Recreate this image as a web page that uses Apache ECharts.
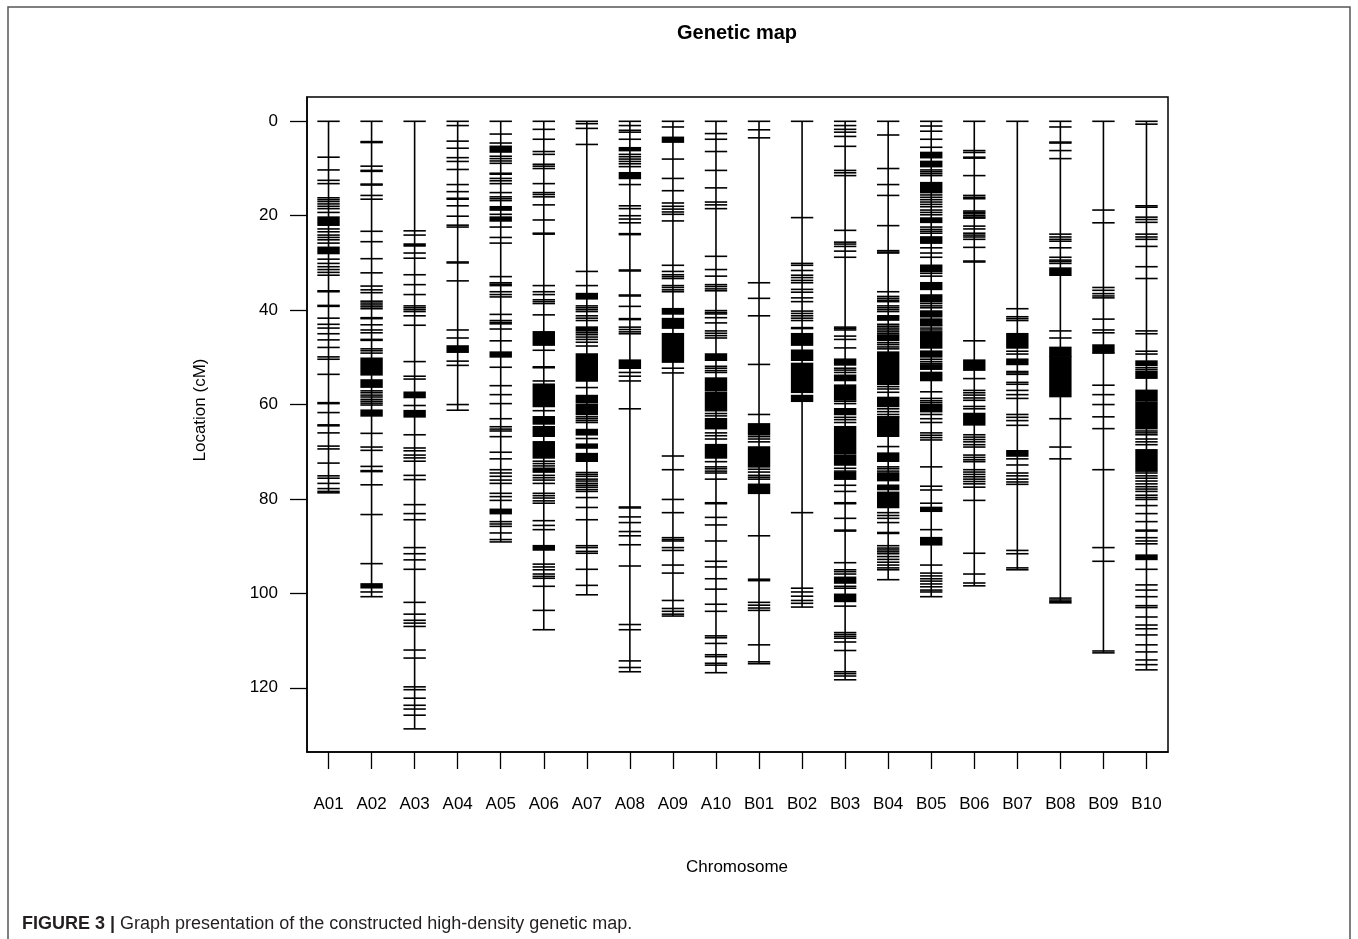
<!DOCTYPE html>
<html><head><meta charset="utf-8">
<script src="https://cdn.jsdelivr.net/npm/echarts@6/dist/echarts.min.js"></script>
<style>html,body{margin:0;padding:0;background:#fff}#c{width:1358px;height:939px}</style>
</head><body><div id="c"></div>
<script>
const chromosomes = ['A01','A02','A03','A04','A05','A06','A07','A08','A09','A10','B01','B02','B03','B04','B05','B06','B07','B08','B09','B10'];
const lengths = [78.7,100.7,128.7,61.2,89.1,107.7,100.3,116.6,104.8,116.8,114.9,102.9,118.3,97.1,100.7,98.4,95.0,102.0,112.6,116.2];
const yTicks = [0,20,40,60,80,100,120];

// single marker positions (cM)
const markersA01 = [0,7.6,10.3,12.5,13.2,16.2,16.6,17.0,17.5,18.0,18.5,19.3,22.8,23.4,24.1,24.6,25.1,25.8,29.2,30.1,30.8,31.4,32.0,32.6,35.9,36.1,39.0,39.2,41.7,43.0,43.8,45.0,46.3,47.9,49.9,50.4,53.6,59.6,59.8,61.7,64.3,64.5,66.0,68.8,69.4,72.4,75.1,75.6,76.7,77.8,78.4,78.7];
const markersA02 = [0,4.3,4.5,9.5,10.4,10.6,13.3,13.5,15.7,16.5,23.3,25.5,29.1,32.1,34.9,35.7,36.3,38.1,38.5,38.9,39.3,39.7,41.6,41.8,43.1,44.2,44.8,46.2,46.4,48.2,48.6,49.1,57.1,57.5,58.0,58.4,58.9,59.3,59.7,60.1,66.1,69.0,69.7,73.1,74.0,74.2,77.0,83.3,93.7,99.7,100.7];
const markersA03 = [0,23.2,24.1,27.9,29.0,32.5,34.6,36.7,39.1,39.5,39.9,40.3,41.2,43.2,50.9,54.0,54.6,60.2,66.4,69.2,69.8,70.7,71.3,72.0,75.0,75.9,81.2,83.1,84.4,90.3,91.6,92.9,94.9,101.9,104.4,105.7,106.3,107.0,112.0,113.7,119.8,120.4,122.2,123.7,124.5,125.8,128.7];
const markersA04 = [0,0.9,4.2,5.7,7.7,8.5,10.2,13.4,14.9,16.3,16.5,17.9,20.1,22.0,22.4,29.8,30.0,33.8,44.2,45.9,50.8,51.7,60.0,61.2];
const markersA05 = [0,2.7,4.6,7.4,7.9,8.4,8.9,11.0,11.2,12.1,12.6,13.2,15.1,16.0,16.4,16.8,19.7,22.4,24.6,25.8,32.9,34.2,34.5,34.8,36.1,36.7,37.2,40.9,42.2,42.6,42.9,44.0,46.5,52.1,56.0,57.9,59.8,63.0,64.7,65.2,65.6,66.8,70.1,71.5,73.8,74.5,75.2,76.0,76.7,78.8,79.5,80.3,84.8,85.3,85.8,87.2,88.6,89.1];
const markersA06 = [0,1.7,3.8,6.4,7.0,9.1,9.5,10.0,13.2,15.1,15.5,16.0,17.7,20.9,23.7,23.9,34.8,36.1,36.7,37.8,38.2,38.6,41.0,48.5,52.0,52.2,55.0,61.3,72.0,72.5,73.0,75.0,75.5,76.0,76.7,78.8,79.3,79.8,80.4,80.9,84.6,85.6,86.5,93.8,94.4,95.0,95.9,96.4,96.8,98.5,103.6,107.7];
const markersA07 = [0,0.5,1.5,4.9,31.8,34.8,39.1,39.5,39.9,40.3,41.2,41.7,42.2,44.8,45.2,45.7,46.2,46.8,47.6,56.4,62.6,63.0,63.4,63.8,67.2,74.4,74.8,75.2,75.8,76.2,76.7,77.1,77.5,78.0,78.4,79.7,81.8,84.4,89.9,90.3,91.1,91.5,94.9,98.3,100.3];
const markersA08 = [0,0.9,1.9,2.3,3.8,7.0,7.5,8.0,8.5,9.0,9.6,13.4,17.9,18.5,20.0,20.7,21.5,23.8,24.0,31.5,31.7,36.8,37.0,39.2,41.8,42.0,43.6,44.1,44.6,45.0,53.2,54.0,55.0,60.9,81.7,81.9,83.8,85.0,86.9,87.8,89.7,94.2,106.6,107.7,114.3,115.7,116.6];
const markersA09 = [0,1.2,8.0,12.1,14.7,17.3,18.0,18.6,19.2,19.7,21.1,30.5,31.8,32.5,32.9,33.3,34.8,35.2,35.7,36.1,52.3,53.3,70.9,73.8,80.1,82.9,88.2,88.6,88.9,90.3,90.9,94.0,95.7,101.5,103.2,103.8,104.4,104.8];
const markersA10 = [0,2.6,3.8,6.4,10.4,14.1,17.1,17.7,18.5,28.6,31.4,32.8,34.6,35.0,35.5,35.9,40.1,40.5,40.8,41.6,42.7,44.4,44.9,45.4,45.9,51.9,52.3,52.8,53.2,61.9,62.4,66.0,66.6,67.3,72.1,73.2,73.6,74.1,74.5,75.8,80.8,81.0,83.9,85.5,88.9,93.2,94.4,96.9,99.1,102.3,103.8,109.0,109.4,110.6,113.0,113.4,114.8,115.2,116.8];
const markersB01 = [0,1.8,3.5,34.2,37.5,41.2,51.5,62.1,66.8,67.3,67.9,73.7,74.3,75.0,75.4,75.8,87.8,97.0,97.3,101.9,102.5,103.1,103.6,110.9,114.5,114.9];
const markersB02 = [0,20.4,30.1,30.5,31.6,32.6,33.1,33.7,34.2,35.6,36.2,37.4,38.2,40.2,40.7,41.2,41.7,42.2,43.7,43.9,82.9,98.9,99.7,100.6,101.5,102.1,102.9];
const markersB03 = [0,0.9,1.7,2.3,3.2,5.3,10.4,10.9,11.5,23.1,25.6,26.0,26.5,27.5,28.8,43.6,43.9,44.2,45.5,46.2,48.0,52.3,52.7,53.2,59.3,59.8,62.7,63.2,63.8,73.5,74.1,77.1,78.4,80.8,81.0,84.1,86.6,86.8,93.5,95.0,95.4,95.9,98.5,98.9,102.7,108.3,108.7,109.1,109.5,110.3,112.1,116.6,117.0,117.5,118.3];
const markersB04 = [0,2.9,10.0,13.4,15.7,22.1,27.4,27.7,27.9,36.1,37.1,37.5,37.9,38.2,39.1,39.5,39.9,40.3,43.0,43.4,43.8,44.2,44.6,45.0,46.9,47.3,47.8,48.2,56.2,56.7,57.4,60.9,61.5,62.1,62.6,68.9,73.2,73.6,74.1,82.9,83.5,84.1,85.0,87.1,87.3,89.9,90.4,90.8,91.2,91.6,92.2,92.8,93.4,94.0,94.6,95.0,97.1];
const markersB05 = [0,1.0,2.1,3.8,5.5,10.3,10.7,11.1,11.5,15.6,16.1,16.6,17.1,17.6,18.1,18.8,19.3,19.8,22.4,22.9,23.3,23.7,26.8,27.9,28.8,32.2,32.8,38.6,39.1,39.5,43.3,43.8,44.2,50.4,50.9,51.3,57.3,58.7,59.2,59.6,62.1,63.0,63.8,66.0,66.5,67.0,67.5,73.2,77.3,78.1,80.9,86.5,94.0,95.7,96.3,96.9,97.4,98.0,98.6,99.3,99.7,100.7];
const markersB06 = [0,6.2,6.6,7.6,7.8,11.5,15.7,16.1,16.4,19.0,19.3,19.6,20.0,20.3,20.5,22.2,22.8,23.7,24.1,24.5,25.0,26.7,29.6,29.8,46.5,54.5,57.0,57.5,58.0,58.6,59.1,60.4,60.9,66.4,66.9,67.4,67.9,68.5,69.0,70.7,71.2,71.7,72.1,73.8,74.3,74.8,75.3,75.8,76.3,76.8,77.5,80.3,91.5,95.9,97.8,98.4];
const markersB07 = [0,39.7,41.4,41.8,42.2,48.7,49.3,53.0,53.3,53.6,55.3,55.7,57.0,57.9,58.7,62.1,62.7,63.4,64.4,71.5,72.8,74.5,75.1,75.8,76.4,76.9,90.9,91.6,94.6,95.0];
const markersB08 = [0,1.2,4.4,4.6,6.2,7.9,23.9,24.5,25.0,25.4,26.8,28.8,29.4,29.7,30.1,44.4,45.9,63.0,69.0,71.5,101.0,101.4,101.7,102.0];
const markersB09 = [0,18.8,21.5,35.2,35.8,36.5,37.0,37.4,41.9,44.2,44.8,49.1,55.9,57.9,60.0,62.6,65.1,73.8,90.3,93.2,112.2,112.6];
const markersB10 = [0,0.6,17.9,18.2,20.3,20.8,21.4,23.9,24.5,25.0,26.5,30.8,33.3,44.4,45.0,48.7,49.3,52.2,52.6,65.6,66.0,66.4,67.3,67.9,68.5,74.5,75.1,75.6,76.2,76.8,77.4,77.9,78.4,79.2,79.7,80.1,81.4,83.1,84.8,86.6,86.8,88.2,88.9,89.5,94.9,98.2,99.3,100.7,102.6,103.0,105.0,106.7,107.5,108.8,110.9,112.4,114.1,115.1,116.2];

// stretches where markers merge into solid black [start, end] (cM)
const blocksA01 = [[20.3,22.0],[26.7,28.0]];
const blocksA02 = [[50.2,53.7],[54.8,56.3],[61.2,62.4],[98.0,98.8]];
const blocksA03 = [[26.0,26.4],[57.4,58.5],[61.3,62.6]];
const blocksA04 = [[47.6,48.9]];
const blocksA05 = [[5.3,6.5],[18.1,18.8],[20.3,21.1],[48.9,49.9],[82.2,83.1]];
const blocksA06 = [[44.6,47.4],[55.7,60.4],[62.6,64.1],[64.7,66.7],[67.9,71.3],[73.5,74.3],[89.9,90.8]];
const blocksA07 = [[36.5,37.6],[43.6,44.4],[49.3,55.0],[58.1,59.6],[60.0,62.1],[65.3,66.4],[68.4,69.2],[70.4,72.0]];
const blocksA08 = [[5.6,6.2],[10.9,12.1],[50.6,52.3]];
const blocksA09 = [[3.4,4.4],[39.7,40.8],[41.8,43.8],[45.0,51.0]];
const blocksA10 = [[49.3,50.6],[54.4,57.0],[57.4,61.3],[63.0,65.1],[68.5,71.3]];
const blocksB01 = [[64.1,66.4],[69.0,73.2],[76.9,78.8]];
const blocksB02 = [[45.0,47.4],[48.5,50.6],[51.3,57.4],[58.1,59.3]];
const blocksB03 = [[50.4,51.6],[53.8,54.9],[55.9,59.0],[60.9,62.1],[64.7,70.3],[70.7,72.8],[74.4,75.8],[96.6,97.8],[100.2,101.7]];
const blocksB04 = [[41.2,42.1],[45.3,46.4],[48.9,55.7],[58.5,60.4],[62.7,66.7],[70.3,72.0],[74.5,76.1],[77.1,78.0],[78.6,81.8]];
const blocksB05 = [[6.6,7.7],[8.5,9.6],[13.0,15.1],[20.5,21.4],[24.5,25.8],[30.5,31.8],[34.2,35.6],[36.8,38.2],[40.2,41.4],[41.9,43.1],[44.6,48.0],[48.7,49.9],[51.6,52.5],[53.2,54.9],[60.0,61.5],[81.8,82.6],[88.2,89.7]];
const blocksB06 = [[50.6,52.7],[61.9,64.3]];
const blocksB07 = [[45.0,48.0],[50.4,51.5],[69.8,70.9]];
const blocksB08 = [[31.1,32.6],[47.9,49.7],[49.9,58.3]];
const blocksB09 = [[47.4,48.9]];
const blocksB10 = [[50.8,51.7],[53.0,54.4],[57.0,59.2],[59.5,65.1],[69.6,74.1],[91.9,92.8]];

const markerLists = [markersA01,markersA02,markersA03,markersA04,markersA05,markersA06,markersA07,markersA08,markersA09,markersA10,markersB01,markersB02,markersB03,markersB04,markersB05,markersB06,markersB07,markersB08,markersB09,markersB10];
const blockLists = [blocksA01,blocksA02,blocksA03,blocksA04,blocksA05,blocksA06,blocksA07,blocksA08,blocksA09,blocksA10,blocksB01,blocksB02,blocksB03,blocksB04,blocksB05,blocksB06,blocksB07,blocksB08,blocksB09,blocksB10];

const lineData = lengths.map((L,i)=>[i,L]);
const markerData = [];
markerLists.forEach((arr,i)=>arr.forEach(v=>markerData.push([i,v])));
const blockData = [];
blockLists.forEach((arr,i)=>arr.forEach(b=>blockData.push([i,b[0],b[1]])));

const HALF = 11.2;
const FONT = "'Liberation Sans', Arial, Helvetica, sans-serif";
const chart = echarts.init(document.getElementById('c'), null, {renderer:'canvas'});
chart.setOption({
  animation:false,
  backgroundColor:'#fff',
  grid:{left:307,right:190,top:97,bottom:187,show:true,borderColor:'#000',borderWidth:1.5,backgroundColor:'transparent'},
  xAxis:{type:'category',data:chromosomes,boundaryGap:true,position:'bottom',
    axisLine:{show:true,onZero:false,lineStyle:{color:'#000',width:1.5}},
    axisTick:{show:true,alignWithLabel:true,interval:0,length:17,lineStyle:{color:'#000',width:1.3}},
    axisLabel:{interval:0,margin:44,color:'#000',fontSize:17,fontFamily:FONT},
    splitLine:{show:false}},
  yAxis:{type:'value',inverse:true,min:-5.15,max:133.6,
    axisLine:{show:true,onZero:false,lineStyle:{color:'#000',width:1.5}},
    axisTick:{show:true,customValues:yTicks,length:17,lineStyle:{color:'#000',width:1.3}},
    axisLabel:{customValues:yTicks,margin:29,color:'#000',fontSize:17,fontFamily:FONT},
    splitLine:{show:false}},
  graphic:[
    {type:'rect',shape:{x:8,y:7,width:1342,height:945},style:{fill:'none',stroke:'#555',lineWidth:1.5},silent:true},
    {type:'text',x:737,y:33,style:{text:'Genetic map',fontSize:20,fontWeight:'bold',fontFamily:FONT,fill:'#000',textAlign:'center',textVerticalAlign:'middle'}},
    {type:'text',x:737,y:867,style:{text:'Chromosome',fontSize:17,fontFamily:FONT,fill:'#000',textAlign:'center',textVerticalAlign:'middle'}},
    {type:'text',x:200,y:410,rotation:Math.PI/2,style:{text:'Location (cM)',fontSize:17,fontFamily:FONT,fill:'#000',textAlign:'center',textVerticalAlign:'middle'}},
    {type:'text',x:22,y:924,style:{text:'{b|FIGURE 3 |} Graph presentation of the constructed high-density genetic map.',
      fontSize:18,fontFamily:"'Liberation Sans Narrow', 'Liberation Sans', sans-serif",fill:'#231f20',textVerticalAlign:'middle',
      rich:{b:{fontWeight:'bold',fontSize:18,fontFamily:"'Liberation Sans Narrow', 'Liberation Sans', sans-serif",fill:'#231f20'}}}}
  ],
  series:[
    {type:'custom',name:'chromosome',data:lineData,encode:{x:0,y:1},clip:false,
      renderItem:function(params,api){
        const i=api.value(0);
        const a=api.coord([i,0]), b=api.coord([i,api.value(1)]);
        return {type:'line',shape:{x1:a[0],y1:a[1],x2:b[0],y2:b[1]},style:{stroke:'#000',lineWidth:1.6}};
      }},
    {type:'custom',name:'blocks',data:blockData,encode:{x:0,y:[1,2]},
      renderItem:function(params,api){
        const i=api.value(0);
        const a=api.coord([i,api.value(1)]), b=api.coord([i,api.value(2)]);
        return {type:'rect',shape:{x:a[0]-HALF,y:a[1]-0.8,width:2*HALF,height:b[1]-a[1]+1.6},style:{fill:'#000'}};
      }},
    {type:'custom',name:'markers',data:markerData,encode:{x:0,y:1},
      renderItem:function(params,api){
        const i=api.value(0);
        const a=api.coord([i,api.value(1)]);
        return {type:'line',shape:{x1:a[0]-HALF,y1:a[1],x2:a[0]+HALF,y2:a[1]},style:{stroke:'#000',lineWidth:1.6}};
      }}
  ]
});
</script></body></html>
